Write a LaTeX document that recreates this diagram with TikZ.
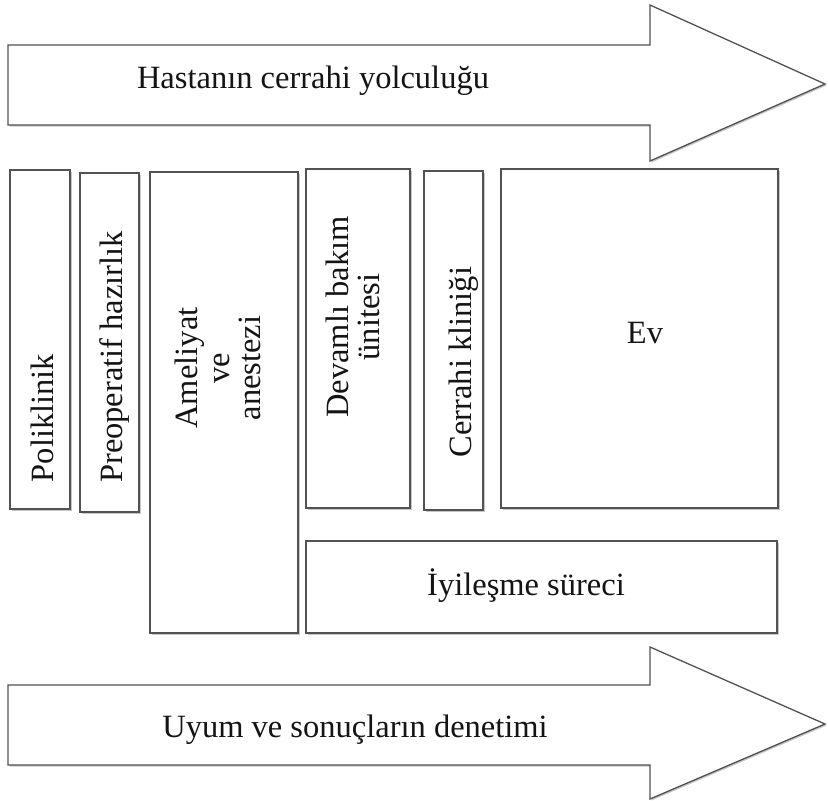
\documentclass[tikz,border=0pt]{standalone}
\usepackage{fontspec}
\setmainfont{Liberation Serif}
\usetikzlibrary{shadows}
\begin{document}
\begin{tikzpicture}[x=1pt,y=-1pt]
\tikzset{
  stage/.style={draw=black!68, line width=1.3pt, fill=white, line join=miter,
    drop shadow={shadow xshift=1.5pt, shadow yshift=-1.5pt, opacity=0.22, fill=black}},
  lbl/.style={font=\fontsize{32.5}{31.5}\selectfont, text=black!92, inner sep=0pt, align=center},
}
\useasboundingbox (0,0) rectangle (828,801);
\fill[white] (0,0) rectangle (828,801);
% top arrow
\draw[stage] (8,45) -- (650,45) -- (650,5) -- (825,84) -- (650,161) -- (650,125) -- (8,125) -- cycle;
\node[lbl, anchor=base] (journey) at (313,88) {Hastanın cerrahi yolculuğu};
% bottom arrow
\draw[stage] (8,685) -- (650,685) -- (650,647) -- (825,724) -- (650,799) -- (650,765) -- (8,765) -- cycle;
\node[lbl, anchor=base] (audit) at (355,737) {Uyum ve sonuçların denetimi};
% stage boxes
\draw[stage] (10,170) rectangle (70,509);
\draw[stage] (80,173) rectangle (139,512);
\draw[stage] (150,172) rectangle (298,633);
\draw[stage] (306,169) rectangle (410,508);
\draw[stage] (424,171) rectangle (483,510);
\draw[stage] (501,169) rectangle (778,508);
\draw[stage] (306,541) rectangle (777,633);
% labels
\node[lbl, rotate=90, anchor=base] (pol) at (53,418) {Poliklinik};
\node[lbl, rotate=90, anchor=base] (pre) at (122,357) {Preoperatif hazırlık};
\node[lbl, rotate=90] (ame) at (218,368) {Ameliyat\\ve\\anestezi};
\node[lbl, rotate=90] (dev) at (353,317) {Devamlı bakım\\ünitesi};
\node[lbl, rotate=90, anchor=base] (cer) at (471,362) {Cerrahi kliniği};
\node[lbl, anchor=base] (ev) at (645,343) {Ev};
\node[lbl, anchor=base] (iyi) at (526,595) {İyileşme süreci};
\end{tikzpicture}
\end{document}
